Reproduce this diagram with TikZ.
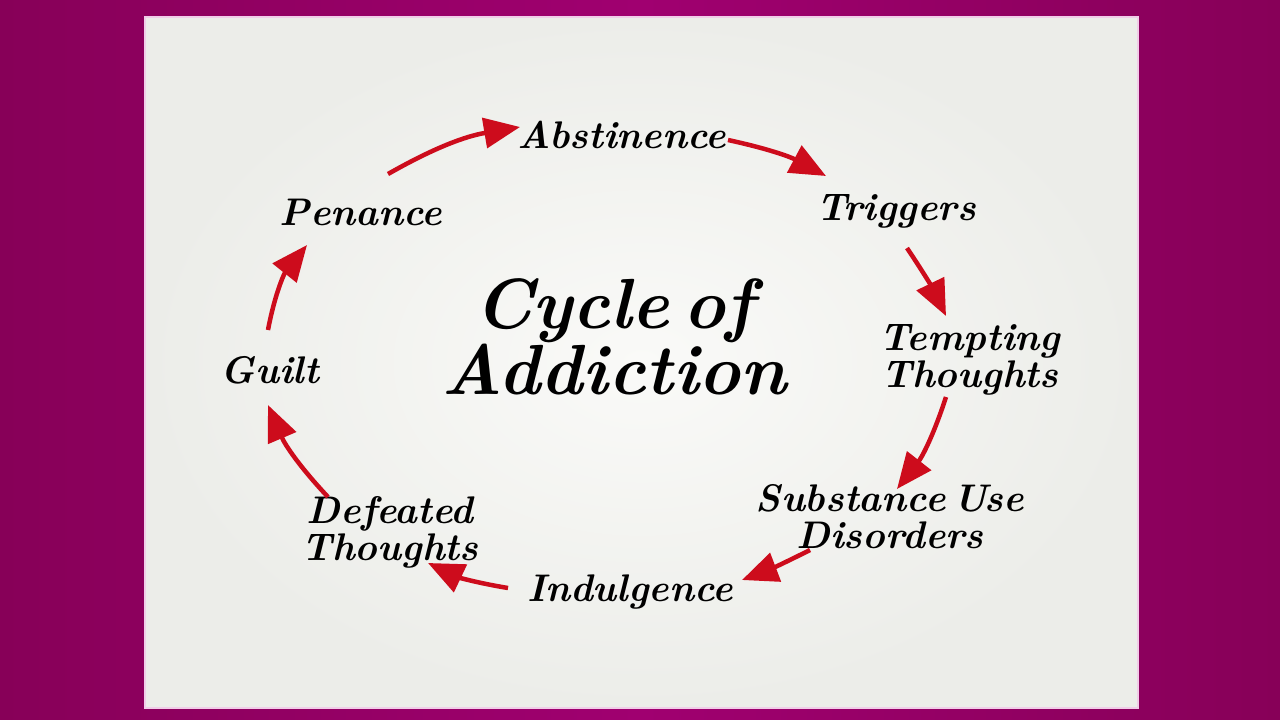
\documentclass[tikz,border=0pt]{standalone}
\usetikzlibrary{arrows.meta}
\definecolor{bgmagL}{RGB}{135,0,88}
\definecolor{bgmagM}{RGB}{160,0,112}
\definecolor{panelC}{RGB}{250,250,248}
\definecolor{panelE}{RGB}{236,237,233}
\definecolor{panelB}{RGB}{240,205,232}
\definecolor{arrowred}{RGB}{205,12,28}
\tikzset{
  lbl/.style={inner sep=0pt, font=\bfseries\itshape\fontsize{38.5}{37}\selectfont, align=center, text=black},
  ttl/.style={inner sep=0pt, font=\bfseries\itshape\fontsize{71}{66}\selectfont, align=center, text=black},
  arr/.style={draw=arrowred, line width=4.5pt, -{Triangle[length=36pt,width=30pt]}},
}
\begin{document}
\begin{tikzpicture}[x=1pt,y=-1pt]
\useasboundingbox (0,0) rectangle (1280,720);
% background
\shade[left color=bgmagL, right color=bgmagL, middle color=bgmagM] (0,0) rectangle (1280,720);
% panel
\shade[inner color=panelC, outer color=panelE] (145,17) rectangle (1138,708);
\draw[panelB, line width=1.5pt] (145,17) rectangle (1138,708);
% labels
\node[lbl] (abs) at (622,134.5) {Abstinence};
\node[lbl] (trg) at (896,211) {Triggers};
\node[lbl] (tem) at (970,359.5) {Tempting\\Thoughts};
\node[lbl] (sub) at (890,516.5) {Substance\hspace{0.2em}Use\\Disorders};
\node[lbl] (ind) at (630,592) {Indulgence};
\node[lbl] (def) at (390,532) {Defeated\\Thoughts};
\node[lbl] (gui) at (270,370) {Guilt};
\node[lbl] (pen) at (361,212) {Penance};
\node[ttl] (title) at (614,337) {Cycle\hspace{0.2em}of\\Addiction};
% arrow end points
\coordinate (p1) at (388,174); \coordinate (q1) at (520,127);
\coordinate (p2) at (728,140); \coordinate (q2) at (826,176);
\coordinate (p3) at (907,248); \coordinate (q3) at (946,316);
\coordinate (p4) at (946,397); \coordinate (q4) at (897,489);
\coordinate (p5) at (810,550); \coordinate (q5) at (742,580);
\coordinate (p6) at (508,588); \coordinate (q6) at (428,563);
\coordinate (p7) at (328,497); \coordinate (q7) at (268,405);
\coordinate (p8) at (268,330); \coordinate (q8) at (307,245);
% arrows
\draw[arr] (p1) to[bend left=10] (q1);
\draw[arr] (p2) to[bend left=8] (q2);
\draw[arr] (p3) to[bend left=4] (q3);
\draw[arr] (p4) to[bend left=10] (q4);
\draw[arr] (p5) to[bend left=3] (q5);
\draw[arr] (p6) to[bend left=8] (q6);
\draw[arr] (p7) to[bend left=10] (q7);
\draw[arr] (p8) to[bend left=14] (q8);
\end{tikzpicture}
\end{document}
